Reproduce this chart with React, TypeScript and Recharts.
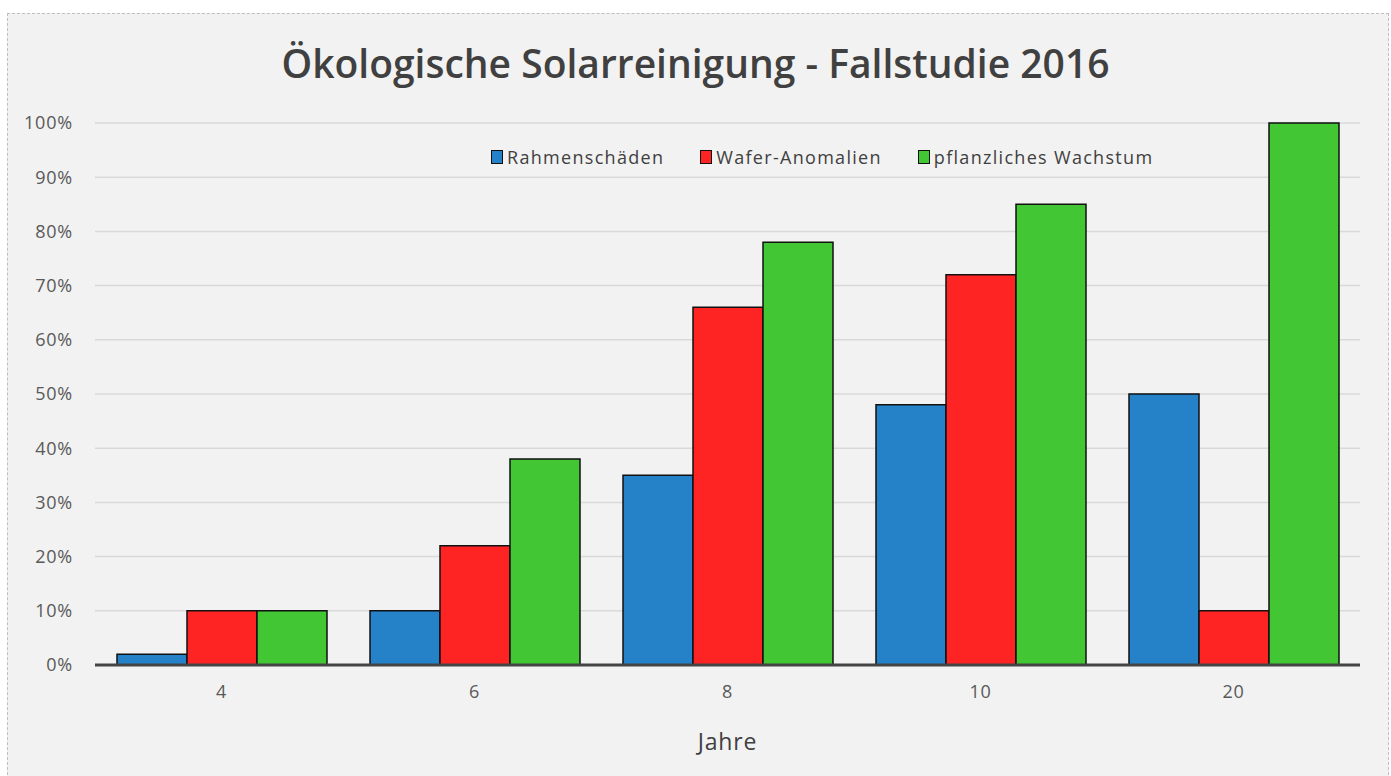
import React from 'react';
import { BarChart, Bar, XAxis, YAxis, CartesianGrid } from 'recharts';

const jahre = ['4', '6', '8', '10', '20'];
const rahmenschaeden = [2, 10, 35, 48, 50];
const waferAnomalien = [10, 22, 66, 72, 10];
const pflanzlichesWachstum = [10, 38, 78, 85, 100];
const yTicks = [0, 10, 20, 30, 40, 50, 60, 70, 80, 90, 100];

const serien = [
  { key: 'rahmen', name: 'Rahmenschäden', farbe: '#2582C9' },
  { key: 'wafer', name: 'Wafer-Anomalien', farbe: '#FF2424' },
  { key: 'pflanzen', name: 'pflanzliches Wachstum', farbe: '#42C634' },
];

const daten = jahre.map((j, i) => ({
  jahr: j,
  rahmen: rahmenschaeden[i],
  wafer: waferAnomalien[i],
  pflanzen: pflanzlichesWachstum[i],
}));

const FONT = '"Open Sans", sans-serif';

// Legende oben rechts, wie in Excel
const Legende = () => (
  <div
    style={{
      position: 'absolute',
      left: 491,
      top: 145,
      display: 'flex',
      alignItems: 'center',
      fontFamily: FONT,
      fontSize: 18,
      letterSpacing: 1.3,
      color: '#404040',
      whiteSpace: 'nowrap',
    }}
  >
    {serien.map((s, i) => (
      <div key={s.key} style={{ display: 'flex', alignItems: 'center', marginRight: i < 2 ? 36 : 0 }}>
        <span
          style={{
            display: 'inline-block',
            width: 10,
            height: 12,
            background: s.farbe,
            border: '1px solid #111',
            marginRight: 4,
          }}
        />
        {s.name}
      </div>
    ))}
  </div>
);

const App: React.FC = () => {
  return (
    <div style={{ position: 'absolute', left: 0, top: 0, width: 1391, height: 776, background: '#fff', overflow: 'hidden' }}>
      <div
        style={{
          position: 'absolute',
          left: 7,
          top: 13,
          width: 1380,
          height: 770,
          background: '#f2f2f2',
          border: '1px dashed #bfbfbf',
        }}
      />
      <div
        style={{
          position: 'absolute',
          left: 0,
          width: 1391,
          top: 36,
          textAlign: 'center',
          fontFamily: FONT,
          fontWeight: 600,
          fontSize: 39,
          color: '#404040',
        }}
      >
        Ökologische Solarreinigung - Fallstudie 2016
      </div>
      <div style={{ position: 'absolute', left: 0, top: 0 }}>
        <BarChart
          width={1391}
          height={776}
          data={daten}
          margin={{ top: 123, right: 31, bottom: 23, left: 15 }}
          barCategoryGap={22}
          barGap={0}
        >
          <CartesianGrid vertical={false} stroke="#d9d9d9" strokeWidth={1.5} />
          <XAxis
            dataKey="jahr"
            height={88}
            tickLine={false}
            axisLine={{ stroke: '#444', strokeWidth: 3 }}
            tickMargin={14}
            tick={{ fill: '#595959', fontSize: 18, fontFamily: FONT, letterSpacing: 0.8 }}
            label={{ value: 'Jahre', position: 'insideBottom', offset: 3, fill: '#404040', fontSize: 23, fontFamily: FONT, letterSpacing: 0.8 }}
          />
          <YAxis
            width={80}
            domain={[0, 100]}
            ticks={yTicks}
            tickFormatter={(v: number) => `${v}%`}
            tickLine={false}
            axisLine={false}
            tickMargin={16}
            tick={{ fill: '#595959', fontSize: 18, fontFamily: FONT, letterSpacing: 0.8 }}
          />
          {serien.map((s) => (
            <Bar
              key={s.key}
              dataKey={s.key}
              name={s.name}
              fill={s.farbe}
              stroke="#111"
              strokeWidth={1.5}
              isAnimationActive={false}
            />
          ))}
        </BarChart>
      </div>
      <Legende />
    </div>
  );
};

export default App;
